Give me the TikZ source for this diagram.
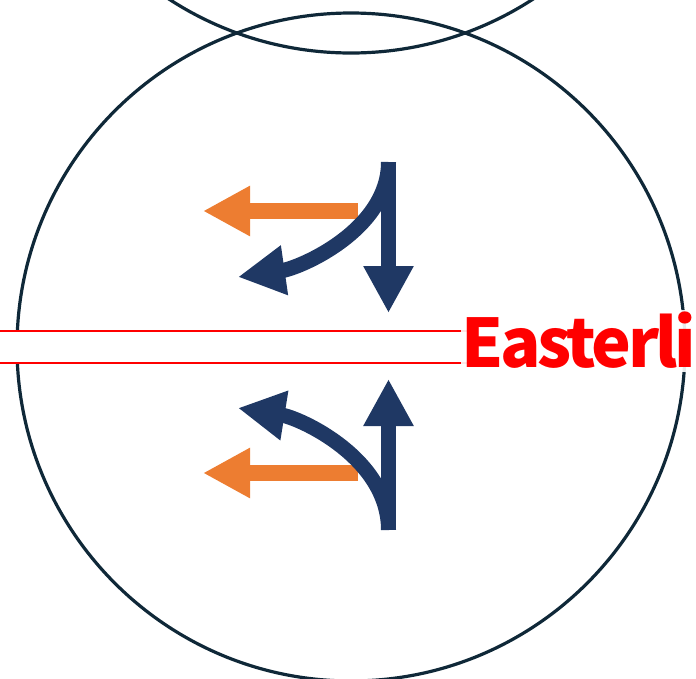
\documentclass[tikz,border=0pt]{standalone}
\usepackage{fontspec}
\usetikzlibrary{arrows.meta}
\newfontfamily\labelfont[LetterSpace=-5]{Noto Sans CJK JP}
\definecolor{ringnavy}{HTML}{0F2838}
\definecolor{lanenavy}{HTML}{1F3864}
\definecolor{laneorange}{HTML}{ED7D31}

\begin{document}
\begin{tikzpicture}[x=1pt, y=-1pt,
    ring/.style={draw=ringnavy, line width=3.2pt},
    bluearrow/.style={draw=lanenavy, line width=15pt, -{Triangle[width=47pt, length=47pt]}},
    orangearrow/.style={draw=laneorange, line width=16pt, -{Triangle[width=47pt, length=47pt]}}]
    \useasboundingbox (0, 0) rectangle (696, 678);

    % Rings
    \draw[ring] (351, -281) circle (334);
    \draw[ring] (351, 347) circle (334);

    % Upper lanes: left turn and through/left
    \draw[orangearrow] (358, 211) -- (203, 211);
    \draw[bluearrow] (388.5, 162) .. controls (388.5, 230) and (300, 268) .. (238, 277);
    \draw[bluearrow] (388.5, 162) -- (388.5, 313);

    % Lower lanes
    \draw[orangearrow] (358, 473) -- (203, 473);
    \draw[bluearrow] (388.5, 530) .. controls (388.5, 458) and (300, 418) .. (238, 408);
    \draw[bluearrow] (388.5, 530) -- (388.5, 379);

    % Road band and label
    \draw[red, line width=2pt, fill=white] (-5, 331) rectangle (470, 363);
    \node (label) [font=\labelfont\bfseries\fontsize{67}{70}\selectfont, text=red,
        fill=white, fill opacity=0.9, text opacity=1,
        anchor=base west, inner sep=0pt, text height=57pt, text depth=5pt]
        at (461, 367) {Easterli};
\end{tikzpicture}
\end{document}
